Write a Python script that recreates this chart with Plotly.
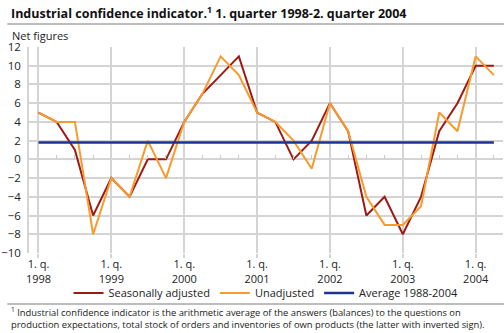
import plotly.graph_objects as go

quarters = list(range(26))  # 1998Q1 .. 2004Q2
year_labels = ["1. q.<br>1998", "1. q.<br>1999", "1. q.<br>2000", "1. q.<br>2001",
               "1. q.<br>2002", "1. q.<br>2003", "1. q.<br>2004"]
year_ticks = [0, 4, 8, 12, 16, 20, 24]

seasonally_adjusted = [5, 4, 1, -6, -2, -4, 0, 0, 4, 7, 9, 11, 5, 4, 0, 2,
                       6, 3, -6, -4, -8, -4, 3, 6, 10, 10]
unadjusted = [5, 4, 4, -8, -2, -4, 2, -2, 4, 7, 11, 9, 5, 4, 2, -1,
              6, 3, -4, -7, -7, -5, 5, 3, 11, 9]
average_value = 1.8
average = [average_value] * len(quarters)

FONT = "Open Sans"
W, H = 504, 333
L, R, T, B = 22, 1, 47, 80
pw = W - L - R
ph = H - T - B

def px_x(x):
    return (x - L) / pw

def px_y(y):
    return (H - B - y) / ph

fig = go.Figure()
fig.add_trace(go.Scatter(x=quarters, y=seasonally_adjusted, mode="lines",
                         name="Seasonally adjusted",
                         line=dict(color="#9e1b14", width=2)))
fig.add_trace(go.Scatter(x=quarters, y=unadjusted, mode="lines",
                         name="Unadjusted",
                         line=dict(color="#f99a2c", width=2)))
fig.add_trace(go.Scatter(x=quarters, y=average, mode="lines",
                         name="Average 1988-2004",
                         line=dict(color="#1b3591", width=2.5)))
# invisible trace to carry minor tick axis at y=0
fig.add_trace(go.Scatter(x=quarters, y=[None] * len(quarters), xaxis="x2",
                         showlegend=False, hoverinfo="skip"))

fig.update_layout(
    width=W, height=H,
    margin=dict(l=L, r=R, t=T, b=B),
    paper_bgcolor="white", plot_bgcolor="white",
    font=dict(family=FONT, size=11, color="#222"),
    showlegend=True,
    legend=dict(orientation="h", x=0.5, xanchor="center", y=px_y(293), yanchor="middle",
                font=dict(size=11, color="#222"), itemwidth=30, tracegroupgap=0,
                bgcolor="rgba(0,0,0,0)"),
    xaxis=dict(range=[-0.52, 25.5], tickvals=year_ticks, ticktext=year_labels,
               showgrid=True, gridcolor="#d4d4d4", gridwidth=1.5,
               ticks="outside", ticklen=4, tickcolor="#d4d4d4", tickwidth=1.5,
               ticklabelstandoff=-3,
               showline=False, zeroline=False, tickfont=dict(size=11, color="#222")),
    xaxis2=dict(range=[-0.52, 25.5], overlaying="x", anchor="free",
                position=10 / 22, side="bottom",
                tickvals=[q for q in quarters if q % 4 != 0],
                showticklabels=False, ticks="inside", ticklen=4,
                tickcolor="#cccccc", showgrid=False, showline=False, zeroline=False),
    yaxis=dict(range=[-10, 12], dtick=2, showgrid=True, gridcolor="#d4d4d4",
               gridwidth=1.5, zeroline=False, showline=True, linecolor="#d4d4d4",
               linewidth=1.5, ticks="", ticklabelstandoff=4,
               tickfont=dict(size=11.5, color="#222")),
)

# title
fig.add_annotation(xref="paper", yref="paper", x=px_x(2), y=px_y(13),
                   xanchor="left", yanchor="middle", showarrow=False,
                   text="<b>Industrial confidence indicator.<sup>1</sup> 1. quarter 1998-2. quarter 2004</b>",
                   font=dict(size=12.5, color="#111"))
fig.add_annotation(xref="paper", yref="paper", x=px_x(3), y=px_y(35),
                   xanchor="left", yanchor="middle", showarrow=False,
                   text="Net figures", font=dict(size=11, color="#222"))
fig.add_annotation(xref="paper", yref="paper", x=px_x(2), y=px_y(318),
                   xanchor="left", yanchor="middle", showarrow=False, align="left",
                   text="<sup>1</sup> Industrial confidence indicator is the arithmetic average of the answers (balances) to the questions on<br>"
                        "production expectations, total stock of orders and inventories of own products (the latter with inverted sign).",
                   font=dict(size=9.4, color="#222"))

fig.add_shape(type="line", xref="paper", yref="paper", x0=px_x(0), x1=px_x(504),
              y0=px_y(24), y1=px_y(24), line=dict(color="#bdbdbd", width=2))
fig.add_shape(type="line", xref="paper", yref="paper", x0=px_x(0), x1=px_x(504),
              y0=px_y(304), y1=px_y(304), line=dict(color="#bdbdbd", width=2))

fig.write_html("out.html")
